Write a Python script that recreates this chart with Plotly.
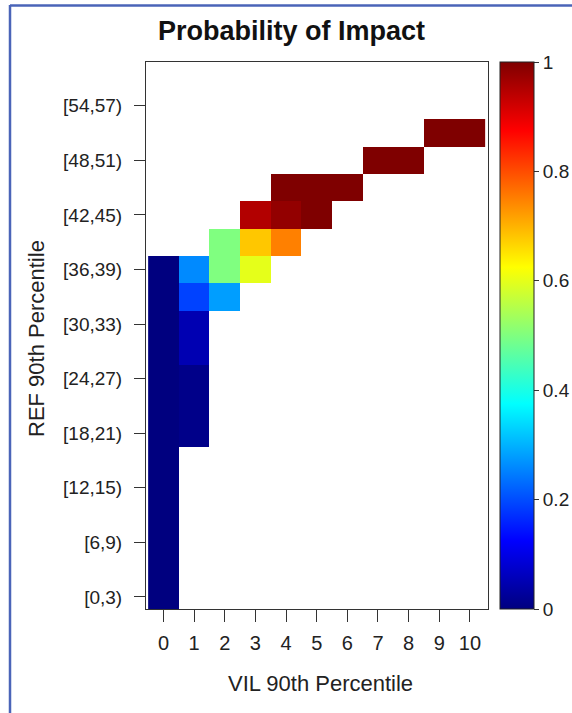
import plotly.graph_objects as go

# Categories
vil_bins = list(range(11))  # VIL 90th percentile
ref_bins = ["[0,3)", "[3,6)", "[6,9)", "[9,12)", "[12,15)", "[15,18)", "[18,21)",
            "[21,24)", "[24,27)", "[27,30)", "[30,33)", "[33,36)", "[36,39)",
            "[39,42)", "[42,45)", "[45,48)", "[48,51)", "[51,54)", "[54,57)"]
ref_ticks = ["[0,3)", "[6,9)", "[12,15)", "[18,21)", "[24,27)", "[30,33)",
             "[36,39)", "[42,45)", "[48,51)", "[54,57)"]
cbar_ticks = [0, 0.2, 0.4, 0.6, 0.8, 1]
cbar_labels = ["0", "0.2", "0.4", "0.6", "0.8", "1"]

N = None
# probability per REF row (bottom to top), columns = VIL 0..10
prob = [
    [0.0, N, N, N, N, N, N, N, N, N, N],
    [0.0, N, N, N, N, N, N, N, N, N, N],
    [0.0, N, N, N, N, N, N, N, N, N, N],
    [0.0, N, N, N, N, N, N, N, N, N, N],
    [0.0, N, N, N, N, N, N, N, N, N, N],
    [0.0, N, N, N, N, N, N, N, N, N, N],
    [0.0, 0.01, N, N, N, N, N, N, N, N, N],
    [0.0, 0.01, N, N, N, N, N, N, N, N, N],
    [0.0, 0.01, N, N, N, N, N, N, N, N, N],
    [0.0, 0.05, N, N, N, N, N, N, N, N, N],
    [0.0, 0.05, N, N, N, N, N, N, N, N, N],
    [0.0, 0.19, 0.28, N, N, N, N, N, N, N, N],
    [0.0, 0.26, 0.50, 0.60, N, N, N, N, N, N, N],
    [N, N, 0.50, 0.68, 0.75, N, N, N, N, N, N],
    [N, N, N, 0.95, 0.98, 1.0, N, N, N, N, N],
    [N, N, N, N, 1.0, 1.0, 1.0, N, N, N, N],
    [N, N, N, N, N, N, N, 1.0, 1.0, N, N],
    [N, N, N, N, N, N, N, N, N, 1.0, 1.0],
    [N, N, N, N, N, N, N, N, N, N, N],
]

jet = [[0, "#00007F"], [0.125, "#0000FF"], [0.375, "#00FFFF"],
       [0.625, "#FFFF00"], [0.875, "#FF0000"], [1, "#7F0000"]]

W, H = 572, 713
L, R, T, B = 146, 488, 62, 609
FONT = "Liberation Sans, Arial"

fig = go.Figure(go.Heatmap(
    x=vil_bins, y=ref_bins, z=prob, colorscale=jet, zmin=0, zmax=1,
    hoverongaps=False,
    colorbar=dict(
        x=(500 - L) / (R - L), xanchor="left", xpad=0, ypad=0,
        y=0.5, yanchor="middle", len=1, lenmode="fraction",
        thickness=34, outlinecolor="#222", outlinewidth=1,
        tickvals=cbar_ticks, ticktext=cbar_labels,
        ticks="outside", ticklen=5, tickcolor="#333",
        tickfont=dict(family=FONT, size=19, color="#222"),
    ),
))

fig.update_layout(
    width=W, height=H,
    margin=dict(l=L, r=W - R, t=T, b=H - B, pad=0, autoexpand=False),
    paper_bgcolor="white", plot_bgcolor="white",
    showlegend=False,
    xaxis=dict(range=[-0.57, 10.59], tickmode="array", tickvals=vil_bins,
               ticks="outside", ticklen=12, tickcolor="#333",
               ticklabelstandoff=4,
               showgrid=False, zeroline=False, showline=True, linecolor="#333",
               linewidth=1, mirror=True,
               tickfont=dict(family=FONT, size=20, color="#222")),
    yaxis=dict(type="category", categoryorder="array", categoryarray=ref_bins,
               range=[-0.44, 19.6], tickmode="array", tickvals=ref_ticks,
               ticks="outside", ticklen=11, tickcolor="#333",
               ticklabelstandoff=8,
               showgrid=False, zeroline=False, showline=True, linecolor="#333",
               linewidth=1, mirror=True,
               tickfont=dict(family=FONT, size=19, color="#222")),
    annotations=[
        dict(text="<b>Probability of Impact</b>", xref="paper", yref="paper",
             x=(291 - L) / (R - L), y=(B - 31) / (B - T), showarrow=False,
             xanchor="center", yanchor="middle",
             font=dict(family=FONT, size=27, color="#111")),
        dict(text="VIL 90th Percentile", xref="paper", yref="paper",
             x=(320 - L) / (R - L), y=(B - 683) / (B - T), showarrow=False,
             xanchor="center", yanchor="middle",
             font=dict(family=FONT, size=22, color="#222")),
        dict(text="REF 90th Percentile", xref="paper", yref="paper",
             x=(37 - L) / (R - L), y=(B - 339) / (B - T), showarrow=False,
             textangle=-90, xanchor="center", yanchor="middle",
             font=dict(family=FONT, size=22, color="#222")),
    ],
    shapes=[
        dict(type="line", xref="paper", yref="paper",
             x0=(10 - L) / (R - L), x1=(W - L) / (R - L),
             y0=(B - 5.5) / (B - T), y1=(B - 5.5) / (B - T),
             line=dict(color="#4a64b8", width=2.5)),
        dict(type="line", xref="paper", yref="paper",
             x0=(10 - L) / (R - L), x1=(10 - L) / (R - L),
             y0=(B - 5) / (B - T), y1=(B - H) / (B - T),
             line=dict(color="#4a64b8", width=2.5)),
    ],
)

fig.write_html("out.html")
